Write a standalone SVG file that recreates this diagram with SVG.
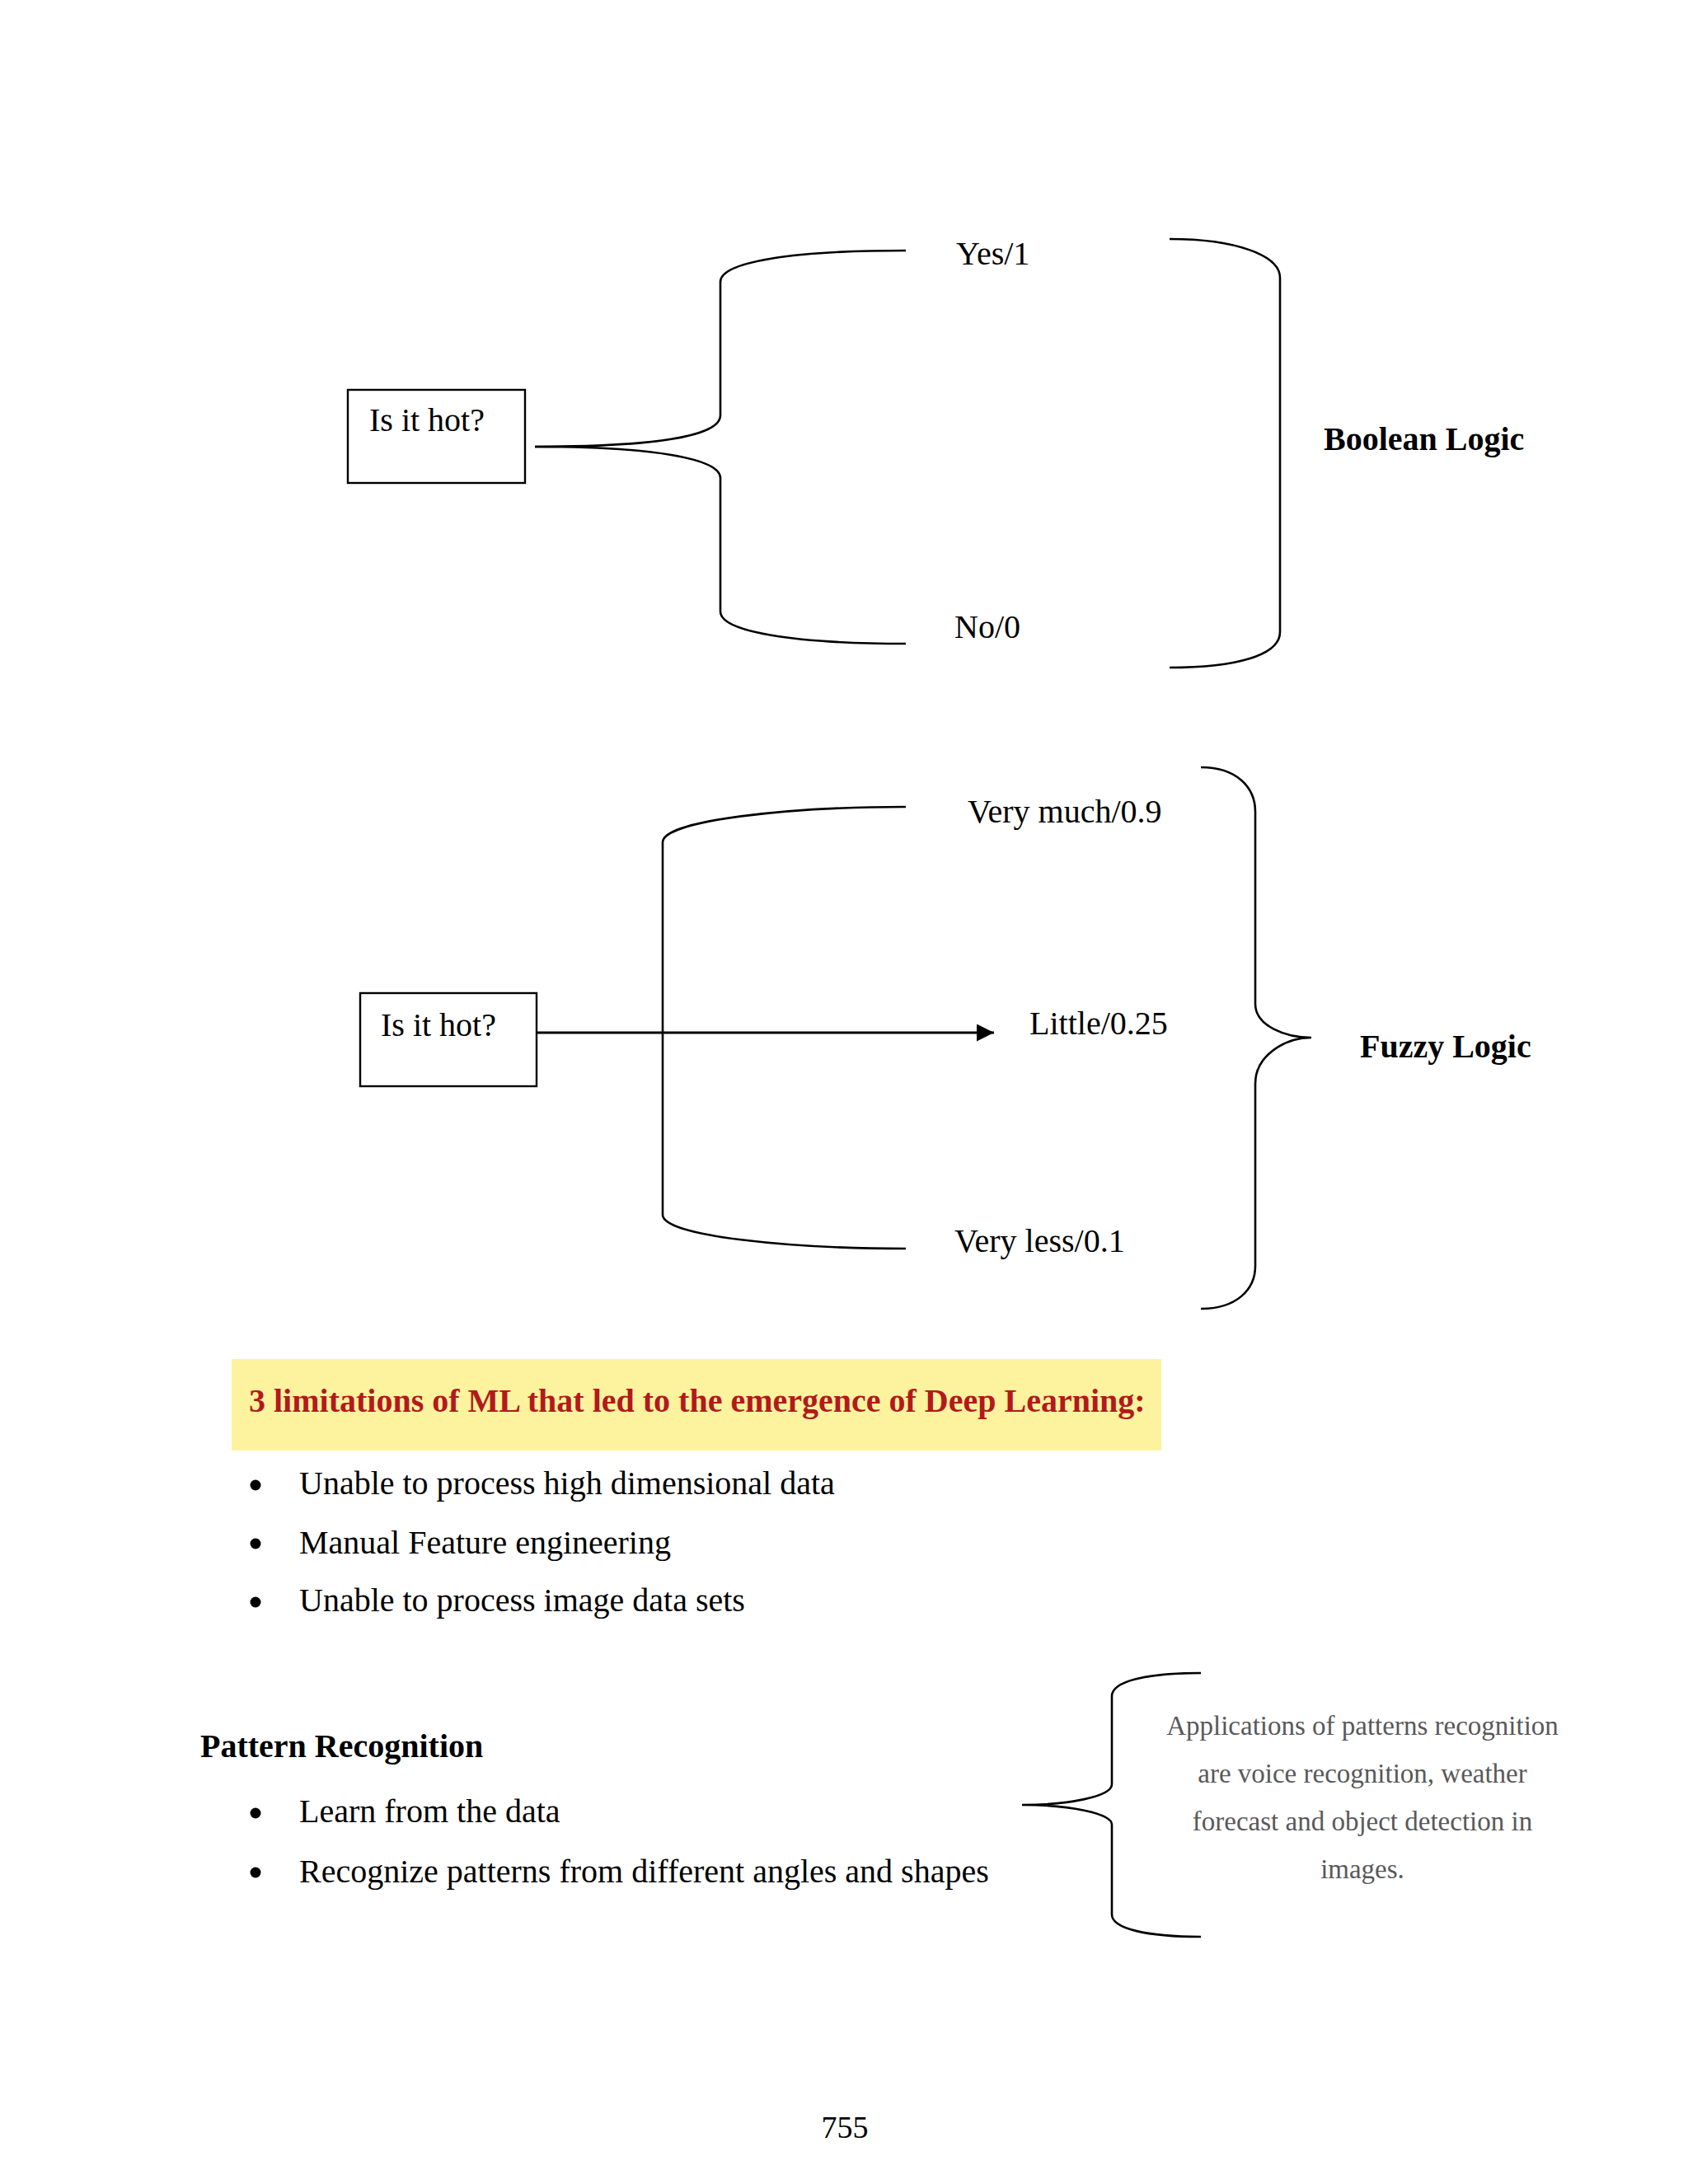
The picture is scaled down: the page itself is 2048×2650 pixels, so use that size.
<svg xmlns="http://www.w3.org/2000/svg" width="2048" height="2650" viewBox="0 0 2048 2650">
<defs>
<style>
.t{font-family:"Liberation Serif","Times New Roman",serif;font-size:40px;fill:#000}
.b{font-weight:bold}
.g{font-family:"Liberation Serif","Times New Roman",serif;font-size:33px;fill:#595959;text-anchor:middle}
.ln{fill:none;stroke:#000;stroke-width:2.6}
.box{fill:#fff;stroke:#000;stroke-width:2.4}
</style>
<marker id="ah" viewBox="0 0 10 10" refX="10" refY="5" markerWidth="7" markerHeight="7" markerUnits="strokeWidth" orient="auto">
<path d="M0,0 L10,5 L0,10 Z" fill="#000"/>
</marker>
</defs>
<rect width="2048" height="2650" fill="#fff"/>

<g id="connectors">
<path class="ln" d="M649,542 C790,542 874,530 874,504 L874,342 C874,318 960,304 1099,304"/>
<path class="ln" d="M649,542 C790,542 874,556 874,580 L874,742 C874,766 960,781 1099,781"/>
<path class="ln" d="M1419,290 C1500,290 1553,310 1553,337 L1553,767 C1553,795 1500,810 1419,810"/>
<path class="ln" d="M1099,979 C960,979 804,995 804,1022 L804,1474 C804,1500 960,1515 1099,1515"/>
<line x1="651" y1="1253" x2="1206" y2="1253" stroke="#000" stroke-width="3" marker-end="url(#ah)"/>
<path class="ln" d="M1457,931 C1500,931 1523,955 1523,985 L1523,1218 C1523,1245 1560,1259 1591,1259 C1560,1259 1523,1280 1523,1315 L1523,1536 C1523,1565 1500,1588 1457,1588"/>
<path class="ln" d="M1457,2030 C1391,2030 1349,2040 1349,2058 L1349,2165 C1349,2180 1296,2190 1240,2190 C1296,2190 1349,2200 1349,2214 L1349,2323 C1349,2340 1391,2350 1457,2350"/>
</g>

<g id="node-bool-q">
<rect class="box" x="422" y="473" width="215" height="113"/>
<text class="t" x="448" y="523">Is it hot?</text>
</g>
<g id="node-yes"><text class="t" x="1160" y="321">Yes/1</text></g>
<g id="node-no"><text class="t" x="1158" y="774">No/0</text></g>
<g id="node-boolean"><text class="t b" x="1606" y="546">Boolean Logic</text></g>

<g id="node-fuzzy-q">
<rect class="box" x="437" y="1205" width="214" height="113"/>
<text class="t" x="462" y="1257">Is it hot?</text>
</g>
<g id="node-verymuch"><text class="t" x="1174" y="998">Very much/0.9</text></g>
<g id="node-little"><text class="t" x="1249" y="1255">Little/0.25</text></g>
<g id="node-veryless"><text class="t" x="1158" y="1519">Very less/0.1</text></g>
<g id="node-fuzzy"><text class="t b" x="1650" y="1283">Fuzzy Logic</text></g>

<g id="limitations">
<rect x="281" y="1649" width="1128" height="111" fill="#fdf39e"/>
<text class="t b" x="302" y="1713" style="fill:#b3191c">3 limitations of ML that led to the emergence of Deep Learning:</text>
<circle cx="310" cy="1802" r="6.5" fill="#000"/>
<text class="t" x="363" y="1813">Unable to process high dimensional data</text>
<circle cx="310" cy="1873" r="6.5" fill="#000"/>
<text class="t" x="363" y="1885">Manual Feature engineering</text>
<circle cx="310" cy="1944" r="6.5" fill="#000"/>
<text class="t" x="363" y="1955">Unable to process image data sets</text>
</g>

<g id="pattern">
<text class="t b" x="243" y="2132">Pattern Recognition</text>
<circle cx="310" cy="2200" r="6.5" fill="#000"/>
<text class="t" x="363" y="2211">Learn from the data</text>
<circle cx="310" cy="2272" r="6.5" fill="#000"/>
<text class="t" x="363" y="2284">Recognize patterns from different angles and shapes</text>
</g>

<g id="applications">
<text class="g" x="1653" y="2105">Applications of patterns recognition</text>
<text class="g" x="1653" y="2163">are voice recognition, weather</text>
<text class="g" x="1653" y="2221">forecast and object detection in</text>
<text class="g" x="1653" y="2279">images.</text>
</g>

<g id="page-number"><text class="t" x="1025" y="2594" text-anchor="middle" style="font-size:38px">755</text></g>
</svg>
